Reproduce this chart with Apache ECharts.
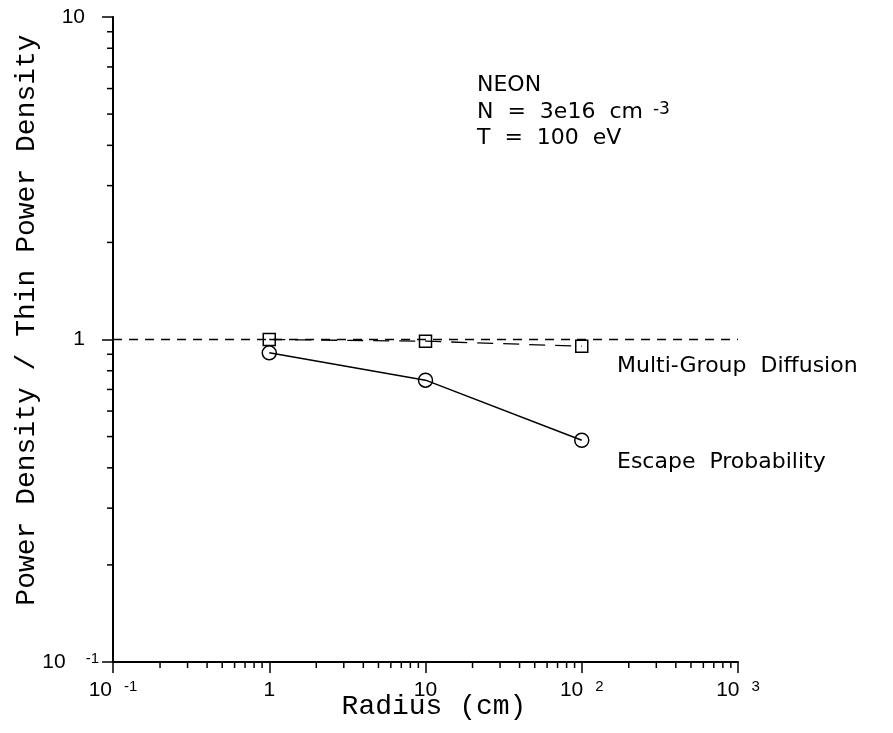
<!DOCTYPE html>
<html>
<head>
<meta charset="utf-8">
<script src="https://cdn.jsdelivr.net/npm/echarts@6/dist/echarts.min.js"></script>
<style>
  html, body { margin: 0; padding: 0; background: #fff; }
  #chart { width: 893px; height: 733px; }
</style>
</head>
<body>
<div id="chart"></div>
<script>
// Radius in cm and the two power-density ratios
const radius = [1, 10, 100];
const multiGroup = [1.0, 0.988, 0.953];
const escapeProb = [0.909, 0.748, 0.487];

// Thin-limit reference (ratio = 1) across the radius range
const unityX = [0.1, 1000];
const unityY = [1, 1];

// Axis ranges and tick labels, indexed by decade exponent
const xRange = [0.1, 1000];
const yRange = [0.1, 10];
const xTickText = { '-1': ['10', '-1'], '0': ['1', ''], '1': ['10', ''], '2': ['10', '2'], '3': ['10', '3'] };
const yTickText = { '-1': ['10', '-1'], '0': ['1', ''], '1': ['10', ''] };

// Minor ticks: 2..9 within each decade
const minorMultiples = [2, 3, 4, 5, 6, 7, 8, 9];
const xDecades = [0.1, 1, 10, 100];
const yDecades = [0.1, 1];
const xMinor = xDecades.flatMap(d => minorMultiples.map(m => +(d * m).toPrecision(3)));
const yMinor = yDecades.flatMap(d => minorMultiples.map(m => +(d * m).toPrecision(3)));

const TICK_FONT = 'Liberation Sans';
const NOTE_FONT = 'DejaVu Sans';
const TITLE_FONT = 'Liberation Mono';

function expOf(v) { return String(Math.round(Math.log10(v))); }

const chart = echarts.init(document.getElementById('chart'), null, { renderer: 'canvas' });

const tickRich = {
  b:  { fontFamily: TICK_FONT, fontSize: 21, color: '#000', lineHeight: 22 },
  s:  { fontFamily: TICK_FONT, fontSize: 15, color: '#000', verticalAlign: 'top', lineHeight: 14, padding: [0, 0, 0, 12] },
  yb: { fontFamily: TICK_FONT, fontSize: 21, color: '#000', lineHeight: 22, padding: [0, 14, 0, 0] },
  ys: { fontFamily: TICK_FONT, fontSize: 15, color: '#000', verticalAlign: 'top', lineHeight: 14, padding: [0, 0, 0, 20] }
};

function minorTickSeries(values, onX) {
  return {
    type: 'custom',
    coordinateSystem: 'cartesian2d',
    silent: true,
    clip: false,
    z: 5,
    data: values.map(v => onX ? [v, yRange[0]] : [xRange[0], v]),
    renderItem: function (params, api) {
      const p = api.coord([api.value(0), api.value(1)]);
      const len = 6;
      return {
        type: 'line',
        shape: onX
          ? { x1: p[0], y1: p[1], x2: p[0], y2: p[1] + len }
          : { x1: p[0], y1: p[1], x2: p[0] - len, y2: p[1] },
        style: { stroke: '#000', lineWidth: 1.5 }
      };
    }
  };
}

function note(text, x, y, rich) {
  const style = { text: text, fontFamily: NOTE_FONT, fontSize: 22, fill: '#000', verticalAlign: 'middle', align: 'left' };
  if (rich) style.rich = rich;
  return { type: 'text', x: x, y: y, style: style };
}

const option = {
  backgroundColor: '#fff',
  animation: false,
  grid: { left: 113, right: 155, top: 17, bottom: 71, containLabel: false, outerBoundsMode: 'none' },
  xAxis: {
    type: 'log',
    logBase: 10,
    min: xRange[0],
    max: xRange[1],
    name: 'Radius (cm)',
    nameLocation: 'middle',
    nameGap: 31,
    nameMoveOverlap: false,
    nameTextStyle: { fontFamily: TITLE_FONT, fontSize: 28, color: '#000', padding: [0, 0, 0, 17] },
    axisLine: { show: true, lineStyle: { color: '#000', width: 2 } },
    axisTick: { show: true, inside: false, length: 11, lineStyle: { color: '#000', width: 1.5 } },
    minorTick: { show: false },
    splitLine: { show: false },
    axisLabel: {
      margin: 17,
      formatter: function (v) {
        const t = xTickText[expOf(v)];
        if (!t) return '';
        return t[1] ? '{b|' + t[0] + '}{s|' + t[1] + '}' : '{b|' + t[0] + '}';
      },
      rich: tickRich
    }
  },
  yAxis: {
    type: 'log',
    logBase: 10,
    min: yRange[0],
    max: yRange[1],
    name: 'Power Density / Thin Power Density',
    nameLocation: 'middle',
    nameGap: 72,
    nameMoveOverlap: false,
    nameTextStyle: { fontFamily: TITLE_FONT, fontSize: 28, color: '#000', padding: [0, 0, 0, 39] },
    axisLine: { show: true, lineStyle: { color: '#000', width: 2 } },
    axisTick: { show: true, inside: false, length: 11, lineStyle: { color: '#000', width: 1.5 } },
    minorTick: { show: false },
    splitLine: { show: false },
    axisLabel: {
      margin: 14,
      formatter: function (v) {
        const t = yTickText[expOf(v)];
        if (!t) return '';
        return t[1] ? '{b|' + t[0] + '}{ys|' + t[1] + '}' : '{yb|' + t[0] + '}';
      },
      rich: tickRich
    }
  },
  series: [
    {
      name: 'unity',
      type: 'line',
      data: unityX.map((x, i) => [x, unityY[i]]),
      showSymbol: false,
      silent: true,
      lineStyle: { color: '#000', width: 1.5, type: [9, 7] },
      z: 2
    },
    {
      name: 'Multi-Group Diffusion',
      type: 'line',
      data: radius.map((r, i) => [r, multiGroup[i]]),
      symbol: 'rect',
      symbolSize: 12,
      itemStyle: { color: 'rgba(0,0,0,0)', borderColor: '#000', borderWidth: 1.5 },
      lineStyle: { color: '#000', width: 1.3, type: [16, 10] },
      z: 3
    },
    {
      name: 'Escape Probability',
      type: 'line',
      data: radius.map((r, i) => [r, escapeProb[i]]),
      symbol: 'circle',
      symbolSize: 14,
      itemStyle: { color: 'rgba(0,0,0,0)', borderColor: '#000', borderWidth: 1.5 },
      lineStyle: { color: '#000', width: 1.5, type: 'solid' },
      z: 3
    },
    minorTickSeries(xMinor, true),
    minorTickSeries(yMinor, false)
  ],
  graphic: [
    note('NEON', 477, 85),
    note('N  =  3e16  cm{s|-3}', 477, 112, {
      s: { fontFamily: NOTE_FONT, fontSize: 17, fill: '#000', verticalAlign: 'top', lineHeight: 14, padding: [0, 0, 0, 10] }
    }),
    note('T  =  100  eV', 477, 138),
    note('Multi-Group  Diffusion', 617, 366),
    note('Escape  Probability', 617, 462)
  ]
};

chart.setOption(option);
</script>
</body>
</html>
